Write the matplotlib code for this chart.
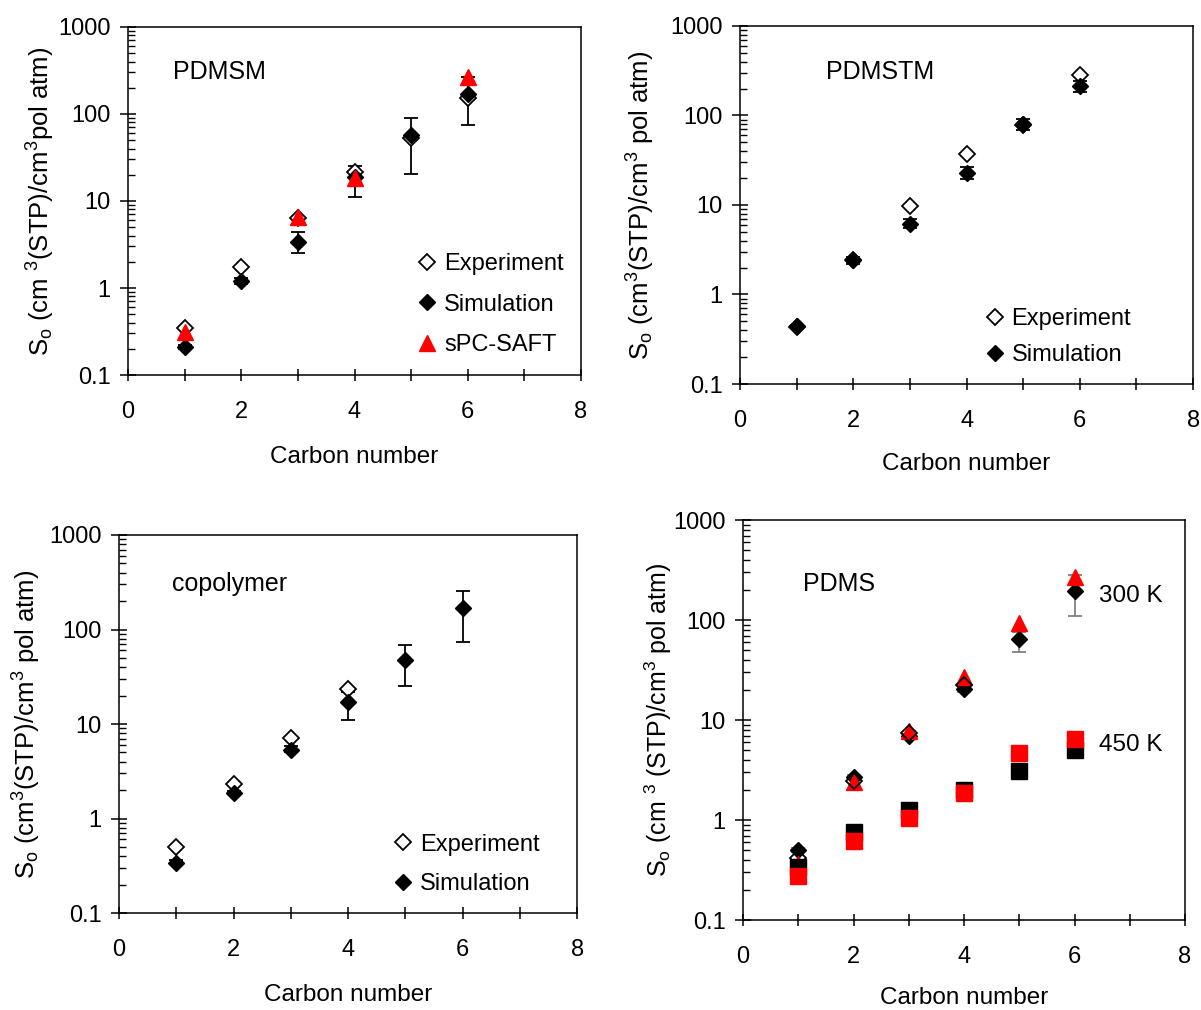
import numpy as np
import matplotlib.pyplot as plt
from matplotlib.ticker import FixedLocator, LogLocator, NullFormatter

plt.rcParams['font.family'] = ['Liberation Sans', 'DejaVu Sans']
plt.rcParams['mathtext.fontset'] = 'custom'
plt.rcParams['mathtext.rm'] = 'Liberation Sans'
plt.rcParams['mathtext.default'] = 'regular'

carbon = [1, 2, 3, 4, 5, 6]

# --- PDMSM ---
pdmsm_exp = [0.35, 1.74, 6.3, 21.5, 53, 152]
pdmsm_sim = [0.21, 1.2, 3.4, 19, 57, 170]
pdmsm_sim_lo = [0.2, 1.12, 2.5, 11, 20.5, 74]
pdmsm_sim_hi = [0.22, 1.3, 4.4, 25, 90, 267]
pdmsm_saft_c = [1, 3, 4, 6]
pdmsm_saft = [0.31, 6.5, 18.4, 266]

# --- PDMSTM ---
pdmstm_exp = [0.43, 2.4, 9.7, 37, 79, 280]
pdmstm_sim = [0.44, 2.45, 6.2, 22.6, 80, 215]
pdmstm_sim_lo = [0.42, 2.2, 5.6, 19.4, 69, 184]
pdmstm_sim_hi = [0.46, 2.65, 6.9, 26.7, 91, 245]

# --- copolymer ---
copo_exp_c = [1, 2, 3, 4]
copo_exp = [0.50, 2.3, 7.2, 23.2]
copo_sim = [0.34, 1.87, 5.3, 16.9, 47, 170]
copo_sim_lo = [0.33, 1.8, 5.0, 10.9, 25.5, 74]
copo_sim_hi = [0.36, 1.95, 5.8, 22, 69, 258]

# --- PDMS, 300 K and 450 K ---
pdms300_exp_c = [1, 2, 3, 4]
pdms300_exp = [0.42, 2.47, 7.5, 22.4]
pdms300_sim = [0.5, 2.7, 7.0, 20.4, 65, 195]
pdms300_sim_lo = [0.48, 2.6, 6.7, 19, 48, 110]
pdms300_sim_hi = [0.52, 2.8, 7.3, 22, 76, 280]
pdms300_saft = [0.36, 2.4, 7.8, 27, 93, 270]
pdms450_sim = [0.34, 0.76, 1.26, 2.0, 3.1, 5.0]
pdms450_saft = [0.275, 0.62, 1.05, 1.87, 4.7, 6.5]

ylabel_a = r'S$_o$ (cm $^3$(STP)/cm$^3$pol atm)'
ylabel_b = r'S$_o$ (cm$^3$(STP)/cm$^3$ pol atm)'
ylabel_c = r'S$_o$ (cm $^3$ (STP)/cm$^3$ pol atm)'

fig = plt.figure(figsize=(12.01, 10.10), dpi=100)

# axes boxes in figure fractions (left, bottom, width, height)
ax1 = fig.add_axes([0.1066, 0.6287, 0.3772, 0.3446])
ax2 = fig.add_axes([0.6162, 0.6198, 0.3772, 0.3545])
ax3 = fig.add_axes([0.0991, 0.0960, 0.3814, 0.3743])
ax4 = fig.add_axes([0.6187, 0.0891, 0.3680, 0.3960])


def style_axes(ax, ylabel, ylab_x, xlab_y, ylab_size=18.5):
    ax.set_yscale('log')
    ax.set_ylim(0.1, 1000)
    ax.set_xlim(0, 8)
    ax.yaxis.set_major_locator(FixedLocator([0.1, 1, 10, 100, 1000]))
    ax.set_yticklabels(['0.1', '1', '10', '100', '1000'])
    ax.yaxis.set_minor_locator(LogLocator(base=10, subs=range(2, 10)))
    ax.yaxis.set_minor_formatter(NullFormatter())
    ax.xaxis.set_major_locator(FixedLocator([0, 2, 4, 6, 8]))
    ax.xaxis.set_minor_locator(FixedLocator([1, 3, 5, 7]))
    ax.tick_params(axis='y', which='major', direction='inout', length=11,
                   width=1.1, labelsize=17, pad=7)
    ax.tick_params(axis='y', which='minor', direction='in', length=5, width=1.0)
    ax.tick_params(axis='x', which='both', direction='inout', length=9,
                   width=1.1, labelsize=17, pad=14)
    for s in ax.spines.values():
        s.set_linewidth(1.1)
    ax.set_xlabel('Carbon number', fontsize=17.5)
    ax.set_ylabel(ylabel, fontsize=ylab_size)
    ax.yaxis.set_label_coords(ylab_x, 0.5)
    ax.xaxis.set_label_coords(0.5, xlab_y)


def add_legend(ax, x0, y0, spacing):
    ax.legend(loc='upper left', bbox_to_anchor=(x0, y0), frameon=False,
              fontsize=17, handlelength=0.8, handletextpad=0.3,
              borderpad=0, borderaxespad=0, labelspacing=spacing)


diamond = dict(marker='D', ms=8.5, ls='none')
err_kw = dict(fmt='none', ecolor='k', elinewidth=1.3, capsize=5, capthick=1.3)

# PDMSM
ax1.errorbar(carbon, pdmsm_sim,
             yerr=[np.subtract(pdmsm_sim, pdmsm_sim_lo), np.subtract(pdmsm_sim_hi, pdmsm_sim)],
             **err_kw)
ax1.plot(carbon, pdmsm_exp, mfc='white', mec='k', mew=1.3, label='Experiment', **diamond)
ax1.plot(carbon, pdmsm_sim, mfc='k', mec='k', label='Simulation', **diamond)
ax1.plot(pdmsm_saft_c, pdmsm_saft, marker='^', ms=12, ls='none', color='red',
         label='sPC-SAFT')
ax1.text(0.099, 0.871, 'PDMSM', transform=ax1.transAxes, fontsize=18, va='center')
style_axes(ax1, ylabel_a, -0.157, -0.203)
add_legend(ax1, 0.640, 0.35, 0.78)

# PDMSTM
ax2.errorbar(carbon, pdmstm_sim,
             yerr=[np.subtract(pdmstm_sim, pdmstm_sim_lo), np.subtract(pdmstm_sim_hi, pdmstm_sim)],
             **err_kw)
ax2.plot(carbon, pdmstm_exp, mfc='white', mec='k', mew=1.3, label='Experiment', **diamond)
ax2.plot(carbon, pdmstm_sim, mfc='k', mec='k', label='Simulation', **diamond)
ax2.text(0.19, 0.871, 'PDMSTM', transform=ax2.transAxes, fontsize=18, va='center')
style_axes(ax2, ylabel_b, -0.183, -0.192)
add_legend(ax2, 0.542, 0.212, 0.6)

# copolymer
ax3.errorbar(carbon, copo_sim,
             yerr=[np.subtract(copo_sim, copo_sim_lo), np.subtract(copo_sim_hi, copo_sim)],
             **err_kw)
ax3.plot(copo_exp_c, copo_exp, mfc='white', mec='k', mew=1.3, label='Experiment', **diamond)
ax3.plot(carbon, copo_sim, mfc='k', mec='k', label='Simulation', **diamond)
ax3.text(0.116, 0.870, 'copolymer', transform=ax3.transAxes, fontsize=18, va='center')
style_axes(ax3, ylabel_b, -0.166, -0.188)
add_legend(ax3, 0.600, 0.21, 0.73)

# PDMS
ax4.errorbar(carbon, pdms300_sim,
             yerr=[np.subtract(pdms300_sim, pdms300_sim_lo), np.subtract(pdms300_sim_hi, pdms300_sim)],
             fmt='none', ecolor='#808080', elinewidth=1.3, capsize=5, capthick=1.3)
ax4.plot(carbon, pdms300_sim, mfc='k', mec='k', **diamond)
ax4.plot(carbon, pdms300_saft, marker='^', ms=12, ls='none', color='red')
ax4.plot(pdms300_exp_c, pdms300_exp, mfc='none', mec='k', mew=1.3, **diamond)
ax4.plot(carbon, pdms450_sim, marker='s', ms=12, ls='none', color='k')
ax4.plot(carbon, pdms450_saft, marker='s', ms=12, ls='none', color='red')
ax4.text(0.136, 0.84, 'PDMS', transform=ax4.transAxes, fontsize=18, va='center')
ax4.text(6.45, 174, '300 K', fontsize=17.5, va='center')
ax4.text(6.45, 5.6, '450 K', fontsize=17.5, va='center')
style_axes(ax4, ylabel_c, -0.156, -0.168, ylab_size=18)

fig.savefig('out.png', dpi=100)
